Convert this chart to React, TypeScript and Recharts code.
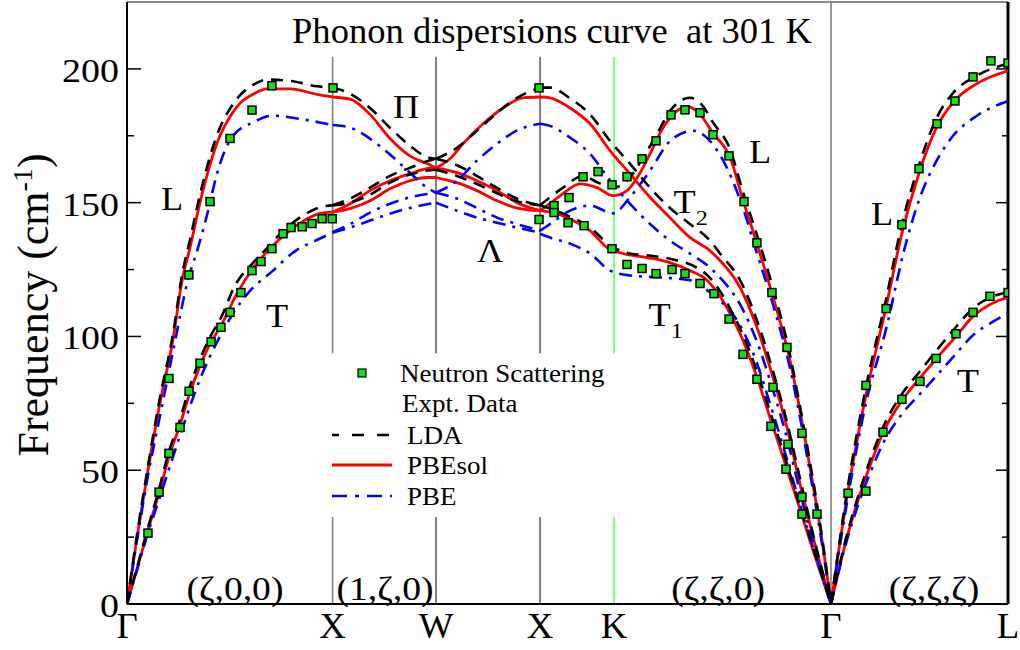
import { ComposedChart, Line, Scatter, XAxis, YAxis, ReferenceLine, ReferenceDot, Legend } from 'recharts'

type Pt = [number, number]

// path positions of the high-symmetry points (2π/a units) and their names
const symQ = [0, 1, 1.503, 2.009, 2.369, 3.424, 4.285]
const symNames = ['Γ', 'X', 'W', 'X', 'K', 'Γ', 'L']
const freqTicks = [0, 25, 50, 75, 100, 125, 150, 175, 200]

// neutron scattering points [q, cm-1]
const exptGX: Pt[] = [
  [0.102, 26.5], [0.156, 41.8], [0.204, 56.3], [0.258, 66], [0.302, 79.5], [0.355, 90], [0.409, 98],
  [0.457, 103.4], [0.501, 109], [0.554, 116.4], [0.608, 124.6], [0.652, 128], [0.705, 132.8],
  [0.759, 138.4], [0.798, 140.7], [0.852, 141], [0.9, 142.2], [0.949, 144], [0.998, 144],
  [0.204, 84.3], [0.301, 123], [0.404, 150.4], [0.501, 174], [0.608, 184.6], [0.705, 193.7], [1.002, 192.9],
]
const exptXK: Pt[] = [
  [2.004, 192.9], [2.004, 143.7], [2.077, 148.9], [2.077, 146.3], [2.15, 151.9], [2.145, 142.5],
  [2.218, 159.7], [2.291, 161.6], [2.223, 141.4], [2.359, 156.7], [2.359, 132.8], [2.432, 159.7],
  [2.505, 166.4], [2.573, 173.1], [2.646, 182.8], [2.714, 184.7], [2.787, 183.6],
  [2.432, 126.9], [2.505, 125.4], [2.573, 123.5], [2.651, 125], [2.714, 123.5],
]
const exptKG: Pt[] = [
  [2.85, 175.4], [2.928, 167.5], [3.001, 150.4], [3.064, 135], [3.137, 116.4], [3.21, 95.9],
  [2.787, 119.8], [2.855, 116], [2.928, 106.5], [2.996, 93.3], [3.064, 84], [3.142, 81],
  [3.132, 66.4], [3.215, 59.7], [3.283, 63.8], [3.205, 50.4], [3.283, 40], [3.283, 33.6], [3.356, 33.6],
]
const exptGL: Pt[] = [
  [3.507, 41.4], [3.594, 81.7], [3.692, 110.4], [3.769, 141.8], [3.852, 162.7], [3.94, 179.5],
  [4.027, 188], [4.115, 197], [4.202, 203], [4.285, 202.2],
  [3.594, 42.2], [3.677, 64.2], [3.769, 76.5], [3.857, 83.2], [3.935, 91.8], [4.032, 101],
  [4.115, 109], [4.197, 115], [4.285, 116.4],
]

// LDA branches
const ldaGxL: Pt[] = [[0, 0], [0.049, 26], [0.102, 51.5], [0.16, 77], [0.224, 101], [0.268, 123], [0.306, 136], [0.355, 153], [0.452, 178], [0.5, 185], [0.548, 190], [0.613, 194], [0.681, 196], [0.793, 195.5], [0.924, 193.5], [1, 193]]
const ldaGxT: Pt[] = [[0, 0], [0.05, 14], [0.1, 28], [0.156, 43], [0.204, 57], [0.258, 69], [0.302, 80.5], [0.355, 91.5], [0.409, 100.5], [0.457, 107], [0.525, 119], [0.613, 127.5], [0.681, 133], [0.76, 139.5], [0.852, 145], [0.939, 148.3], [1, 149]]
const ldaXW1: Pt[] = [[1, 193], [1.085, 190.7], [1.182, 185.4], [1.279, 178], [1.376, 171.3], [1.459, 167], [1.503, 166.4]]
const ldaXW2: Pt[] = [[1, 149], [1.085, 151.5], [1.182, 155.6], [1.279, 160], [1.376, 163], [1.459, 165.5], [1.503, 166.4]]
const ldaXW3: Pt[] = [[1, 149], [1.085, 150], [1.182, 153], [1.279, 157.5], [1.376, 160.5], [1.459, 162], [1.503, 162.3]]
const ldaWX1: Pt[] = [[1.503, 166.4], [1.605, 170.5], [1.702, 176.9], [1.8, 183.6], [1.897, 189.2], [2.009, 193]]
const ldaWX2: Pt[] = [[1.503, 166.4], [1.605, 164], [1.702, 160], [1.8, 155.5], [1.897, 151.5], [2.009, 149]]
const ldaWX3: Pt[] = [[1.503, 162.3], [1.605, 160], [1.702, 157], [1.8, 153.5], [1.897, 150.5], [2.009, 149]]
const ldaT2: Pt[] = [[2.009, 193], [2.057, 193], [2.155, 189], [2.252, 183], [2.35, 173], [2.446, 164.6], [2.544, 155.6], [2.641, 148], [2.738, 142], [2.836, 135.8], [2.884, 131], [2.982, 121], [3.064, 106], [3.142, 87], [3.21, 68], [3.273, 47], [3.337, 26], [3.424, 0]]
const ldaL: Pt[] = [[2.009, 149], [2.121, 155.6], [2.218, 160], [2.29, 157.5], [2.364, 155.6], [2.432, 158.2], [2.51, 166.8], [2.578, 175.7], [2.641, 184.3], [2.738, 189.2], [2.802, 186], [2.85, 180], [2.933, 170], [2.996, 154], [3.064, 138], [3.142, 118], [3.225, 93], [3.273, 74], [3.322, 53], [3.371, 30], [3.424, 0]]
const ldaT1: Pt[] = [[2.009, 149], [2.121, 145.9], [2.252, 140.7], [2.35, 134], [2.446, 131], [2.544, 130.2], [2.641, 129], [2.772, 125.7], [2.821, 123], [2.884, 117], [2.933, 110.5], [2.982, 103], [3.064, 87], [3.127, 72], [3.191, 57], [3.259, 40], [3.337, 21], [3.424, 0]]
const ldaGlL: Pt[] = [[3.424, 0], [3.502, 42], [3.594, 81], [3.692, 114], [3.769, 142], [3.852, 164], [3.94, 182], [4.018, 191], [4.134, 197.5], [4.285, 202]]
const ldaGlT: Pt[] = [[3.424, 0], [3.502, 26], [3.565, 42.5], [3.62, 55], [3.677, 66], [3.769, 78.5], [3.857, 87], [3.94, 95], [4.037, 104], [4.115, 110.5], [4.212, 115], [4.285, 116.5]]

// PBEsol branches
const solGxL: Pt[] = [[0, 0], [0.049, 25], [0.102, 50], [0.16, 75], [0.224, 99], [0.268, 121], [0.306, 133], [0.355, 150], [0.452, 175], [0.5, 182], [0.548, 187], [0.613, 190.5], [0.681, 192.5], [0.793, 192.5], [0.924, 190.5], [1, 189.5]]
const solGxT: Pt[] = [[0, 0], [0.05, 13.5], [0.1, 27], [0.156, 41.5], [0.204, 55], [0.258, 67], [0.302, 78], [0.355, 89], [0.409, 98], [0.457, 104], [0.535, 116], [0.613, 125.5], [0.71, 134], [0.807, 140.5], [0.939, 146], [1, 146.5]]
const solXW1: Pt[] = [[1, 189.5], [1.085, 188.7], [1.182, 183], [1.279, 174], [1.376, 167.5], [1.459, 164.6], [1.503, 163]]
const solXW2: Pt[] = [[1, 146.5], [1.085, 149.6], [1.182, 154.5], [1.279, 158.2], [1.376, 160.8], [1.459, 162.7], [1.503, 163]]
const solXW3: Pt[] = [[1, 146.5], [1.085, 147.8], [1.182, 150.7], [1.279, 155.2], [1.376, 158.2], [1.459, 159.4], [1.503, 159.4]]
const solWX1: Pt[] = [[1.503, 163], [1.571, 166.4], [1.634, 172], [1.732, 179.5], [1.829, 185.4], [1.926, 189.2], [2.009, 189.5]]
const solWX2: Pt[] = [[1.503, 163], [1.605, 161.2], [1.702, 158.2], [1.8, 154.5], [1.897, 150], [2.009, 147]]
const solWX3: Pt[] = [[1.503, 159.4], [1.605, 157.5], [1.702, 154.5], [1.8, 150.7], [1.897, 148], [2.009, 147]]
const solT2: Pt[] = [[2.009, 189.5], [2.057, 189.2], [2.155, 185.4], [2.252, 179.5], [2.35, 169.4], [2.446, 160.8], [2.544, 152], [2.641, 144.4], [2.738, 137], [2.836, 132], [2.884, 128.4], [2.982, 118.3], [3.064, 103.4], [3.142, 84.7], [3.21, 66], [3.273, 45], [3.337, 25], [3.424, 0]]
const solL: Pt[] = [[2.009, 147], [2.057, 149.6], [2.121, 153.4], [2.203, 157], [2.286, 155.6], [2.364, 152.6], [2.432, 154.5], [2.481, 159.3], [2.544, 168.3], [2.607, 178], [2.675, 184.3], [2.724, 186], [2.787, 183], [2.85, 176], [2.933, 167], [2.996, 151], [3.064, 134.7], [3.161, 109.7], [3.225, 91], [3.273, 72.4], [3.322, 51], [3.371, 28.7], [3.424, 0]]
const solT1: Pt[] = [[2.009, 147], [2.091, 145.9], [2.169, 143.3], [2.252, 139.5], [2.335, 133.2], [2.412, 131], [2.529, 129.5], [2.641, 127.6], [2.738, 124.6], [2.821, 121], [2.884, 115], [2.933, 108.6], [2.982, 101], [3.064, 84.7], [3.127, 69.8], [3.191, 54.9], [3.259, 38.8], [3.337, 20], [3.424, 0]]
const solGlL: Pt[] = [[3.424, 0], [3.502, 40], [3.594, 78], [3.692, 111], [3.769, 138.5], [3.852, 161], [3.94, 178.5], [4.018, 187.5], [4.134, 194.5], [4.285, 199.3]]
const solGlT: Pt[] = [[3.424, 0], [3.502, 25], [3.565, 41], [3.62, 53], [3.677, 64], [3.769, 76], [3.857, 84.5], [3.94, 92], [4.037, 100.5], [4.115, 107.5], [4.212, 112.5], [4.285, 114.6]]

// PBE branches
const pbeGxL: Pt[] = [[0, 0], [0.049, 24], [0.102, 48], [0.165, 72], [0.228, 96], [0.296, 121], [0.345, 133], [0.404, 150], [0.428, 158], [0.516, 175], [0.613, 180], [0.71, 182.5], [0.841, 181.3], [1, 179]]
const pbeGxT: Pt[] = [[0, 0], [0.05, 13], [0.1, 26], [0.16, 40], [0.258, 63], [0.355, 84], [0.452, 100], [0.516, 108.6], [0.598, 117], [0.71, 124.6], [0.807, 131.3], [0.939, 136.6], [1, 138.8]]
const pbeXW1: Pt[] = [[1, 179], [1.085, 178], [1.182, 173.9], [1.279, 168], [1.376, 161.2], [1.459, 155.6], [1.503, 153.7]]
const pbeXW2: Pt[] = [[1, 139], [1.085, 142], [1.182, 146.3], [1.279, 149.6], [1.376, 152], [1.503, 153.7]]
const pbeXW3: Pt[] = [[1, 138.8], [1.085, 140.7], [1.182, 143.3], [1.279, 145.9], [1.376, 148], [1.503, 150]]
const pbeWX1: Pt[] = [[1.503, 153.7], [1.605, 158.2], [1.702, 165.7], [1.8, 172], [1.897, 177], [2.009, 179.5]]
const pbeWX2: Pt[] = [[1.503, 153.7], [1.605, 151.5], [1.702, 148], [1.8, 144.4], [1.897, 142], [2.009, 139.5]]
const pbeWX3: Pt[] = [[1.503, 150], [1.605, 147], [1.702, 144.4], [1.8, 142.5], [1.897, 140.7], [2.009, 138.8]]
const pbeT2: Pt[] = [[2.009, 179.5], [2.057, 178.7], [2.155, 174.3], [2.252, 168.3], [2.35, 158.2], [2.446, 149.6], [2.544, 142], [2.641, 135.8], [2.738, 131], [2.836, 125.7], [2.884, 122], [2.982, 112], [3.064, 98], [3.142, 80], [3.21, 62], [3.273, 42], [3.337, 23], [3.424, 0]]
const pbeL: Pt[] = [[2.009, 139.5], [2.057, 142], [2.155, 147], [2.252, 148.9], [2.364, 146], [2.446, 152], [2.544, 162], [2.641, 173], [2.753, 176.9], [2.836, 173], [2.918, 163], [2.996, 148], [3.064, 131], [3.142, 112], [3.225, 88], [3.273, 70], [3.322, 49], [3.371, 27], [3.424, 0]]
const pbeT1: Pt[] = [[2.009, 138.4], [2.057, 137], [2.155, 134.7], [2.252, 131], [2.35, 124.6], [2.446, 122.8], [2.607, 122], [2.738, 121], [2.787, 119], [2.884, 113.4], [2.967, 106], [3.064, 90], [3.127, 75], [3.191, 59], [3.259, 41], [3.337, 21], [3.424, 0]]
const pbeGlL: Pt[] = [[3.424, 0], [3.502, 38], [3.594, 75], [3.696, 104], [3.779, 132], [3.857, 152], [3.94, 166], [4.018, 175], [4.134, 182.5], [4.285, 188]]
const pbeGlT: Pt[] = [[3.424, 0], [3.502, 24], [3.565, 39], [3.62, 50], [3.677, 60], [3.769, 71], [3.857, 78.5], [3.94, 85.5], [4.037, 94], [4.115, 100.5], [4.212, 105.5], [4.285, 108.6]]

const ldaBranches = [ldaGxL, ldaGxT, ldaXW1, ldaXW2, ldaXW3, ldaWX1, ldaWX2, ldaWX3, ldaT2, ldaL, ldaT1, ldaGlL, ldaGlT]
const solBranches = [solGxL, solGxT, solXW1, solXW2, solXW3, solWX1, solWX2, solWX3, solT2, solL, solT1, solGlL, solGlT]
const pbeBranches = [pbeGxL, pbeGxT, pbeXW1, pbeXW2, pbeXW3, pbeWX1, pbeWX2, pbeWX3, pbeT2, pbeL, pbeT1, pbeGlL, pbeGlT]
const exptAll = [...exptGX, ...exptXK, ...exptKG, ...exptGL]

const SERIF = '"Liberation Serif", "Times New Roman", Times, serif'
const GREEN = '#16dd16'
const PLOT_L = 127
const PLOT_R = 1008

const rows = (pts: Pt[]) => pts.map(([q, f]) => ({ q, f }))

// annotations: anchor in data coords
const notes = [
  { q: 2.067, f: 209.5, text: 'Phonon dispersions curve  at 301 K', size: 35, sx: 1.045 },
  { q: 0.219, f: 147.2, text: 'L', size: 33, sx: 1.1 },
  { q: 0.73, f: 103.5, text: 'T', size: 33, sx: 1.1 },
  { q: 1.357, f: 181.6, text: 'Π', size: 33, sx: 1.1 },
  { q: 1.766, f: 127.8, text: 'Λ', size: 33, sx: 1.1 },
  { q: 2.742, f: 146.1, text: 'T', sub: '2', size: 33, sx: 1.1 },
  { q: 2.62, f: 103.9, text: 'T', sub: '1', size: 33, sx: 1.1 },
  { q: 3.079, f: 164.8, text: 'L', size: 33, sx: 1.1 },
  { q: 3.672, f: 141.6, text: 'L', size: 33, sx: 1.1 },
  { q: 4.09, f: 79.2, text: 'T', size: 33, sx: 1.1 },
  { q: 0.525, f: 1.5, text: '(ζ,0,0)', size: 33, sx: 1.14 },
  { q: 1.255, f: 1.5, text: '(1,ζ,0)', size: 33, sx: 1.14 },
  { q: 2.875, f: 1.5, text: '(ζ,ζ,0)', size: 33, sx: 1.14 },
  { q: 3.925, f: 1.5, text: '(ζ,ζ,ζ)', size: 33, sx: 1.14 },
]

// text stretched a little horizontally, as in the original figure
function SText({ x, y, size, sx = 1, anchor = 'middle', children }: any) {
  return (
    <text transform={`translate(${x},${y}) scale(${sx},1)`} textAnchor={anchor} fontSize={size}
      fontFamily={SERIF} fill="#000" style={{ whiteSpace: 'pre' }}>
      {children}
    </text>
  )
}

function Square(props: any) {
  const { cx, cy } = props
  if (cx == null || cy == null) return null
  return <rect x={cx - 4} y={cy - 4} width={8} height={8} fill={GREEN} stroke="#000" strokeWidth={1.5} />
}

function XTick(props: any) {
  const { x, payload } = props
  const i = symQ.indexOf(payload.value)
  return <SText x={x} y={638} size={35} sx={1.05}>{symNames[i]}</SText>
}

function YTick(props: any) {
  const { y, payload } = props
  const v = payload.value
  const major = v % 50 === 0
  return (
    <g>
      <line x1={PLOT_L} x2={PLOT_L + (major ? 14 : 7)} y1={y} y2={y} stroke="#000" strokeWidth={1.5} />
      <line x1={PLOT_R} x2={PLOT_R - (major ? 12 : 6)} y1={y} y2={y} stroke="#000" strokeWidth={1.5} />
      {major && <SText x={PLOT_L - 8} y={y + 13} size={33} sx={1.15} anchor="end">{v}</SText>}
    </g>
  )
}

const yTitle = () => (
  <text transform="translate(48,305) rotate(-90)" textAnchor="middle" fontSize={44} fontFamily={SERIF} fill="#000">
    Frequency (cm
    <tspan fontSize={28} dy={-16}>-1</tspan>
    <tspan dy={16}>)</tspan>
  </text>
)

const noteLabel = (n: any) => (p: any) => {
  const { x, y } = p.viewBox
  return (
    <SText x={x} y={y} size={n.size} sx={n.sx}>
      {n.text}
      {n.sub && <tspan fontSize={22} dy={12}>{n.sub}</tspan>}
    </SText>
  )
}

function LegendBox() {
  return (
    <svg width={300} height={160} style={{ display: 'block' }}>
      <rect x={28} y={14} width={8} height={8} fill={GREEN} stroke="#000" strokeWidth={1.2} />
      <SText x={70} y={27} size={25} sx={1.08} anchor="start">Neutron Scattering</SText>
      <SText x={72} y={57} size={25} sx={1.08} anchor="start">Expt. Data</SText>
      <line x1={2} x2={62} y1={80} y2={80} stroke="#000" strokeWidth={2.6} strokeDasharray="12 13" strokeDashoffset={5} />
      <SText x={77} y={89} size={25} sx={1.08} anchor="start">LDA</SText>
      <line x1={2} x2={62} y1={110} y2={110} stroke="#ff0000" strokeWidth={2.8} />
      <SText x={77} y={119} size={25} sx={1.08} anchor="start">PBEsol</SText>
      <line x1={2} x2={62} y1={141} y2={141} stroke="#0000ff" strokeWidth={2.6} strokeDasharray="15 8 4 8" />
      <SText x={77} y={150} size={25} sx={1.08} anchor="start">PBE</SText>
    </svg>
  )
}

// vertical guide lines, broken where the legend sits
const guides = [
  { q: 1, color: '#808080', w: 1.6 },
  { q: 1.503, color: '#000', w: 1 },
  { q: 2.009, color: '#000', w: 1 },
  { q: 2.369, color: '#00ff00', w: 1 },
]

export default function App() {
  return (
    <div style={{ position: 'absolute', left: 0, top: 0, width: 1020, height: 650, background: '#fff' }}>
      <ComposedChart width={1020} height={650} margin={{ top: 2, right: 12, bottom: 6, left: 67 }}>
        <XAxis
          type="number"
          dataKey="q"
          domain={[0, 4.285]}
          ticks={symQ}
          interval={0}
          tick={<XTick />}
          tickLine={false}
          axisLine={{ stroke: '#000', strokeWidth: 2 }}
          height={40}
          allowDataOverflow
        />
        <YAxis
          type="number"
          dataKey="f"
          domain={[0, 225]}
          ticks={freqTicks}
          interval={0}
          tick={<YTick />}
          tickLine={false}
          tickSize={0}
          axisLine={{ stroke: '#000', strokeWidth: 2 }}
          width={60}
          allowDataOverflow
          label={{ content: yTitle }}
        />
        <ReferenceLine y={225} stroke="#666" strokeWidth={1.5} />
        <ReferenceLine x={4.285} stroke="#000" strokeWidth={3} />
        <ReferenceLine x={3.424} stroke="#808080" strokeWidth={1.6} />
        {guides.map(g => (
          <ReferenceLine key={'a' + g.q} segment={[{ x: g.q, y: 0 }, { x: g.q, y: 32.5 }]} stroke={g.color} strokeWidth={g.w} />
        ))}
        {guides.map(g => (
          <ReferenceLine key={'b' + g.q} segment={[{ x: g.q, y: 93.7 }, { x: g.q, y: 204.5 }]} stroke={g.color} strokeWidth={g.w} />
        ))}

        {solBranches.map((b, i) => (
          <Line key={'sol' + i} data={rows(b)} dataKey="f" type="monotone" stroke="#ff0000" strokeWidth={2.8}
            dot={false} activeDot={false} isAnimationActive={false} legendType="none" />
        ))}
        {pbeBranches.map((b, i) => (
          <Line key={'pbe' + i} data={rows(b)} dataKey="f" type="monotone" stroke="#0000ff" strokeWidth={2.6}
            strokeDasharray="13 7 3 7" dot={false} activeDot={false} isAnimationActive={false} legendType="none" />
        ))}
        {ldaBranches.map((b, i) => (
          <Line key={'lda' + i} data={rows(b)} dataKey="f" type="monotone" stroke="#000" strokeWidth={2.6}
            strokeDasharray="12 8" dot={false} activeDot={false} isAnimationActive={false} legendType="none" />
        ))}
        <Scatter data={rows(exptAll)} dataKey="f" shape={<Square />} isAnimationActive={false} legendType="none" />

        {notes.map((n, i) => (
          <ReferenceDot key={'n' + i} x={n.q} y={n.f} r={0} stroke="none" fill="none" ifOverflow="visible" label={noteLabel(n)} />
        ))}
        <Legend
          layout="vertical"
          align="center"
          verticalAlign="middle"
          content={<LegendBox />}
          wrapperStyle={{ left: 330, top: 355, width: 300, height: 160 }}
        />
      </ComposedChart>
    </div>
  )
}
